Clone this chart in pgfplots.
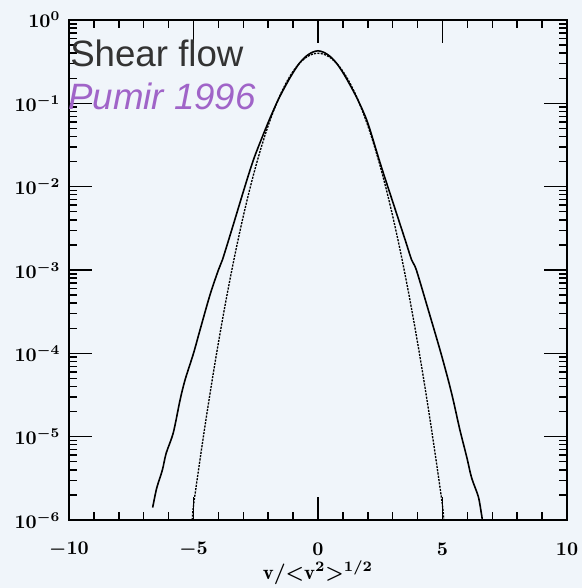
\documentclass[border=0pt]{standalone}
\usepackage{pgfplots}
\pgfplotsset{compat=1.18}
\usepackage{fontspec}
\newfontfamily\arial{Liberation Sans}
\definecolor{bg}{RGB}{240,245,250}
\definecolor{tgray}{RGB}{51,51,51}
\definecolor{tpurple}{RGB}{160,100,200}
\begin{document}
\begin{tikzpicture}[x=1pt,y=1pt]
\fill[bg] (0,0) rectangle (436.5,441);
\begin{axis}[
  at={(51.75pt,51pt)}, anchor=south west,
  scale only axis, width=373.5pt, height=375pt,
  xmin=-10, xmax=10, ymode=log, ymin=1e-6, ymax=1,
  xtick={-10,-5,0,5,10}, minor x tick num=4,
  ytick={1e-6,1e-5,1e-4,1e-3,1e-2,1e-1,1},
  major tick length=17pt, minor tick length=6pt,
  every tick/.style={black, line width=1.1pt},
  axis line style={line width=1.5pt},
  tick label style={font=\boldmath, scale=1.45},
  xticklabel style={anchor=center, inner sep=0pt, yshift=-15.3pt},
  yticklabel style={xshift=-1pt},
  xlabel={$\mathrm{v}/{<}\mathrm{v}^2{>}^{1/2}$},
  xlabel style={font=\boldmath, scale=1.55, inner sep=0pt, at={(axis description cs:0.5,0)}, anchor=center, yshift=-25.4pt},
  clip=true,
]
\addplot[black, line width=1.2pt, smooth] coordinates {
(-6.64,1.41e-6) (-6.48,2.4e-6) (-6.25,3.98e-6) (-6.10,6.3e-6) (-5.81,1.12e-5)
(-5.54,2.75e-5) (-5.34,4.79e-5) (-5.0,1.0e-4) (-4.74,1.9e-4) (-4.34,5.0e-4)
(-4.0,1.0e-3) (-3.84,1.32e-3) (-3.5,2.8e-3) (-3.0,8.7e-3) (-2.73,1.58e-2)
(-2.5,2.5e-2) (-2.0,5.9e-2) (-1.6,0.110) (-1.25,0.174) (-1.0,0.234)
(-0.75,0.302) (-0.5,0.363) (-0.25,0.407) (0,0.427) (0.25,0.407) (0.5,0.363)
(0.75,0.302) (1.0,0.234) (1.25,0.174) (1.6,0.110) (2.0,0.058) (2.5,0.019)
(3.0,6.6e-3) (3.5,2.3e-3) (3.76,1.32e-3) (3.95,1.0e-3)
(4.43,3.31e-4) (4.9,1.10e-4) (5.23,4.79e-5) (5.43,2.75e-5) (5.7,1.20e-5)
(5.97,5.75e-6) (6.17,3.2e-6) (6.44,1.9e-6) (6.57,1.15e-6) (6.6,1.0e-6)
};
\addplot[black, line width=1.0pt, dash pattern=on 1.6pt off 0.9pt, smooth] coordinates {
(-5.05,1.0e-6) (-5.0,1.487e-6) (-4.75,5.031e-6) (-4.5,1.599e-5) (-4.25,4.772e-5)
(-4.0,1.338e-4) (-3.75,3.526e-4) (-3.5,8.727e-4) (-3.25,2.029e-3) (-3.0,4.432e-3)
(-2.75,9.09e-3) (-2.5,1.753e-2) (-2.25,3.17e-2) (-2.0,5.40e-2) (-1.75,8.63e-2)
(-1.5,0.1295) (-1.25,0.1826) (-1.0,0.2420) (-0.75,0.3011) (-0.5,0.3521)
(-0.25,0.3867) (0,0.3989) (0.25,0.3867) (0.5,0.3521) (0.75,0.3011) (1.0,0.2420)
(1.25,0.1826) (1.5,0.1295) (1.75,8.63e-2) (2.0,5.40e-2) (2.25,3.17e-2)
(2.5,1.753e-2) (2.75,9.09e-3) (3.0,4.432e-3) (3.25,2.029e-3) (3.5,8.727e-4)
(3.75,3.526e-4) (4.0,1.338e-4) (4.25,4.772e-5) (4.5,1.599e-5) (4.75,5.031e-6)
(5.0,1.487e-6) (5.05,1.0e-6)
};
\end{axis}
\node[anchor=base west, inner sep=0, text=tgray, font=\arial\fontsize{27.5}{30}\selectfont] at (52.5,390.75) {Shear flow};
\node[anchor=base west, inner sep=0, text=tpurple, font=\arial\itshape\fontsize{27.5}{30}\selectfont] at (51,358.5) {Pumir 1996};
\pgfresetboundingbox
\path[use as bounding box] (0,0) rectangle (436.5,441);
\end{tikzpicture}
\end{document}
